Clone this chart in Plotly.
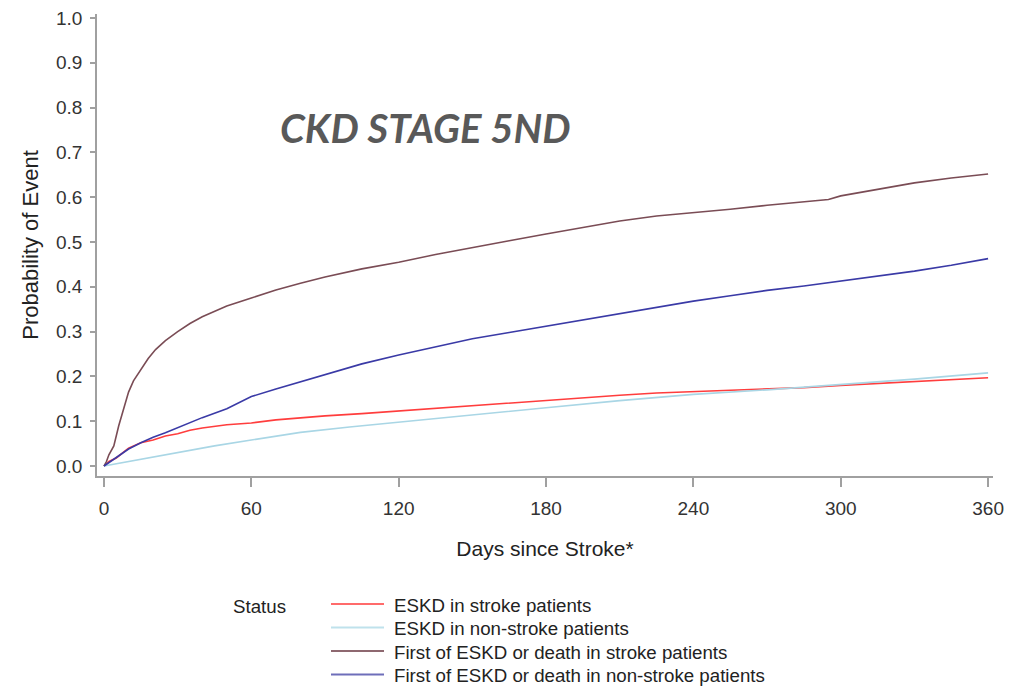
import plotly.graph_objects as go

# ---- data ----
red_days = [0, 2, 5, 10, 15, 20, 25, 30, 35, 40, 50, 60, 70, 80, 90, 105, 120, 135, 150, 165,
            180, 195, 210, 225, 240, 255, 270, 285, 300, 315, 330, 345, 360]
red_vals = [0, 0.01, 0.018, 0.04, 0.052, 0.058, 0.067, 0.072, 0.08, 0.085, 0.092, 0.096, 0.103,
            0.108, 0.112, 0.117, 0.123, 0.129, 0.135, 0.14, 0.146, 0.152, 0.158, 0.163, 0.166,
            0.169, 0.172, 0.175, 0.18, 0.184, 0.188, 0.192, 0.197]

lblue_days = [0, 10, 20, 30, 45, 60, 80, 100, 120, 150, 180, 210, 240, 270, 300, 330, 360]
lblue_vals = [0, 0.01, 0.02, 0.03, 0.045, 0.058, 0.075, 0.087, 0.098, 0.115, 0.13, 0.146, 0.16,
              0.17, 0.182, 0.194, 0.208]

brown_days = [0, 1, 2, 4, 6, 8, 10, 12, 15, 18, 21, 25, 30, 35, 40, 45, 50, 60, 70, 80, 90, 105,
              120, 135, 150, 165, 180, 195, 210, 225, 240, 255, 270, 285, 295, 300, 315, 330,
              345, 360]
brown_vals = [0, 0.01, 0.025, 0.045, 0.09, 0.13, 0.165, 0.19, 0.215, 0.24, 0.26, 0.28, 0.30,
              0.318, 0.333, 0.345, 0.357, 0.375, 0.393, 0.408, 0.422, 0.44, 0.455, 0.472, 0.488,
              0.503, 0.518, 0.533, 0.547, 0.558, 0.565, 0.573, 0.582, 0.59, 0.595, 0.603, 0.618,
              0.632, 0.643, 0.652]

blue_days = [0, 5, 10, 15, 20, 25, 30, 40, 50, 60, 70, 80, 90, 105, 120, 135, 150, 165, 180,
             195, 210, 225, 240, 255, 270, 285, 300, 315, 330, 345, 360]
blue_vals = [0, 0.02, 0.038, 0.052, 0.064, 0.074, 0.085, 0.108, 0.128, 0.155, 0.172, 0.188,
             0.205, 0.228, 0.248, 0.266, 0.284, 0.298, 0.312, 0.327, 0.341, 0.355, 0.368, 0.38,
             0.392, 0.402, 0.413, 0.424, 0.435, 0.448, 0.463]

series_names = ["ESKD in stroke patients", "ESKD in non-stroke patients",
                "First of ESKD or death in stroke patients",
                "First of ESKD or death in non-stroke patients"]
series_colors = ["#FF3D3D", "#A9D6E5", "#7A4C55", "#3A3AA6"]
legend_colors = ["#FF6B6B", "#BFE2EC", "#8E6870", "#6E6EBA"]

x_ticks = [0, 60, 120, 180, 240, 300, 360]
y_ticks = [0.0, 0.1, 0.2, 0.3, 0.4, 0.5, 0.6, 0.7, 0.8, 0.9, 1.0]

# plot-area pixel geometry (for placing paper-referenced decorations)
PL, PR, PT, PB = 97, 993, 14, 476
def px(x):
    return (x - PL) / (PR - PL)
def py(y):
    return (PB - y) / (PB - PT)

fig = go.Figure()
for d, v, n, c in zip([red_days, lblue_days, brown_days, blue_days],
                      [red_vals, lblue_vals, brown_vals, blue_vals],
                      series_names, series_colors):
    fig.add_trace(go.Scatter(x=d, y=v, mode="lines", name=n, showlegend=False,
                             line=dict(color=c, width=1.6)))

tick_font = dict(family="Liberation Sans, Arial", size=19, color="#333333")
legend_font = dict(family="Liberation Sans, Arial", size=18.7, color="#222222")

fig.update_layout(
    width=1021, height=688,
    margin=dict(l=PL, r=1021 - PR, t=PT, b=688 - PB, autoexpand=False),
    plot_bgcolor="white", paper_bgcolor="white",
    font=tick_font,
    showlegend=False,
    xaxis=dict(range=[-2.85, 362], tickvals=x_ticks, ticktext=[str(t) for t in x_ticks],
               showline=True, linecolor="#A0A0A0", linewidth=1.5,
               ticks="outside", ticklen=9, tickcolor="#A0A0A0", tickwidth=1.5,
               ticklabelstandoff=5, showgrid=False, zeroline=False, automargin=False,
               tickfont=tick_font,
               title=dict(text="Days since Stroke*",
                          font=dict(family="Liberation Sans, Arial", size=21, color="#222222"),
                          standoff=24)),
    yaxis=dict(range=[-0.0223, 1.009], tickvals=y_ticks,
               ticktext=["%.1f" % t for t in y_ticks],
               showline=True, linecolor="#A0A0A0", linewidth=1.5,
               ticks="outside", ticklen=5, tickcolor="#A0A0A0", tickwidth=1.5,
               ticklabelstandoff=4, showgrid=False, zeroline=False, automargin=False,
               tickfont=tick_font,
               title=dict(text="Probability of Event",
                          font=dict(family="Liberation Sans, Arial", size=22, color="#222222"),
                          standoff=11)),
)

fig.add_annotation(text="CKD STAGE 5ND", xref="paper", yref="paper",
                   x=px(425), y=py(128), xanchor="center", yanchor="middle",
                   showarrow=False,
                   font=dict(family="Lato", size=40, color="#595959",
                             weight="bold", style="italic"))

# legend block ("Status" + line samples + labels)
fig.add_annotation(text="Status", xref="paper", yref="paper",
                   x=px(231), y=py(606), xanchor="left", yanchor="middle",
                   showarrow=False, font=legend_font)
row_y = [604, 627.5, 651, 674.5]
for name, col, ry in zip(series_names, legend_colors, row_y):
    fig.add_shape(type="line", xref="paper", yref="paper",
                  x0=px(331), x1=px(384), y0=py(ry), y1=py(ry),
                  line=dict(color=col, width=2))
    fig.add_annotation(text=name, xref="paper", yref="paper",
                       x=px(392), y=py(ry + 1), xanchor="left", yanchor="middle",
                       showarrow=False, font=legend_font)

fig.write_html("out.html", config={"displayModeBar": False},
               post_script="document.body.style.margin='0';")
